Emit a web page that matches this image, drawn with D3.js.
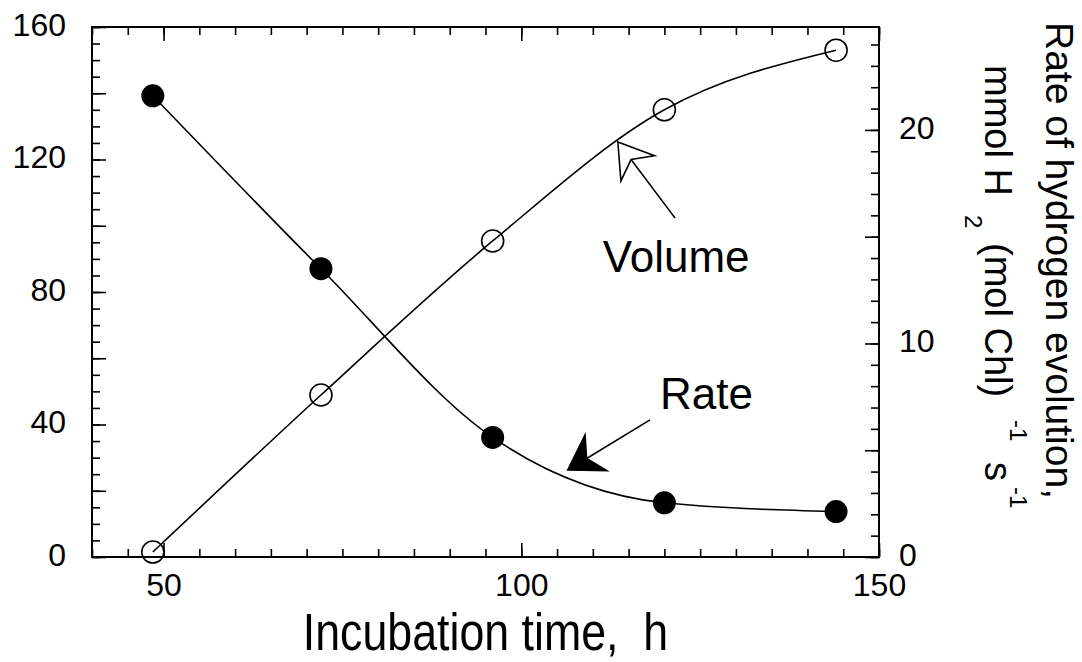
<!DOCTYPE html>
<html><head><meta charset="utf-8">
<script src="https://cdn.jsdelivr.net/npm/d3@7"></script>
<style>body{margin:0;background:#fff} text{font-family:"Liberation Sans",Arial,Helvetica,sans-serif;fill:#000;white-space:pre}</style>
</head><body><svg id="c" width="1082" height="662"></svg>
<script>
// ---- data ----
const hours = [48.5, 72, 96, 120, 144];
const volume = [1.5, 48.9, 95.4, 135.0, 153.0];   // left axis (open circles)
const rate = [21.6, 13.5, 5.6, 2.54, 2.13];        // right axis (filled circles)
const xTickLabels = [50, 100, 150];
const leftTickLabels = [0, 40, 80, 120, 160];
const rightTickLabels = [0, 10, 20];
const xTitle = "Incubation time,  h";
const rightTitle1 = "Rate of hydrogen evolution,";
const rightTitle2 = ["mmol H", "2", "(mol Chl)", "-1", "s", "-1"];
const annoLabels = ["Volume", "Rate"];
// annotation anchors in data units (x: hours, y: left axis units)
const volumeArrow = {tip: [113.5, 125.3], tail: [121.5, 102.3]};
const rateArrow = {tip: [106.5, 26.3], tail: [118.0, 41.4]};
const annoPos = [[111.4, 86.0], [119.4, 44.7]];

// ---- layout ----
const svg = d3.select("#c");
const X0 = 92, X1 = 879, Y0 = 557, Y1 = 27;
const x = d3.scaleLinear().domain([40, 150]).range([X0, X1]);
const yL = d3.scaleLinear().domain([0, 160]).range([Y0, Y1]);
const yR = d3.scaleLinear().domain([0, 24.82]).range([Y0, Y1]);

function style(g, fs) {
  g.select("path.domain").remove();
  g.selectAll(".tick line").attr("stroke", "#000").attr("stroke-width", 1.6);
  g.selectAll("text").attr("font-size", fs).attr("fill", "#000")
   .attr("font-family", '"Liberation Sans",Arial,sans-serif');
}
const FS = 32;
// bottom
svg.append("g").attr("transform", `translate(0,${Y0})`)
  .call(d3.axisBottom(x).tickValues(d3.range(40, 151, 5)).tickSize(-8).tickSizeOuter(0).tickFormat(""))
  .call(g => style(g, FS));
svg.append("g").attr("transform", `translate(0,${Y0})`)
  .call(d3.axisBottom(x).tickValues(xTickLabels).tickSize(-14).tickSizeOuter(0).tickPadding(16))
  .call(g => style(g, FS));
// top
svg.append("g").attr("transform", `translate(0,${Y1})`)
  .call(d3.axisTop(x).tickValues(d3.range(40, 151, 5)).tickSize(-8).tickSizeOuter(0).tickFormat(""))
  .call(g => style(g, FS));
svg.append("g").attr("transform", `translate(0,${Y1})`)
  .call(d3.axisTop(x).tickValues(xTickLabels).tickSize(-14).tickSizeOuter(0).tickFormat(""))
  .call(g => style(g, FS));
// left
svg.append("g").attr("transform", `translate(${X0},0)`)
  .call(d3.axisLeft(yL).tickValues(d3.range(0, 161, 5)).tickSize(-8).tickSizeOuter(0).tickFormat(""))
  .call(g => style(g, FS));
svg.append("g").attr("transform", `translate(${X0},0)`)
  .call(d3.axisLeft(yL).tickValues(d3.range(0, 161, 20)).tickSize(-14).tickSizeOuter(0).tickPadding(26)
    .tickFormat(d => leftTickLabels.includes(d) ? d : ""))
  .call(g => style(g, FS))
  .call(g => g.selectAll("text").attr("dy", "0.26em"));
// right
svg.append("g").attr("transform", `translate(${X1},0)`)
  .call(d3.axisRight(yR).tickValues(d3.range(0, 25, 1)).tickSize(-8).tickSizeOuter(0).tickFormat(""))
  .call(g => style(g, FS));
svg.append("g").attr("transform", `translate(${X1},0)`)
  .call(d3.axisRight(yR).tickValues(d3.range(0, 21, 5)).tickSize(-14).tickSizeOuter(0).tickPadding(20)
    .tickFormat(d => rightTickLabels.includes(d) ? d : ""))
  .call(g => style(g, FS))
  .call(g => g.selectAll("text").attr("dy", "0.26em"));
// frame
svg.append("rect").attr("x", X0).attr("y", Y1).attr("width", X1 - X0).attr("height", Y0 - Y1)
  .attr("fill", "none").attr("stroke", "#000").attr("stroke-width", 2);

// ---- lines ----
const volLine = d3.line().x((d, i) => x(hours[i])).y(d => yL(d)).curve(d3.curveMonotoneX);
const rateLine = d3.line().x((d, i) => x(hours[i])).y(d => yR(d)).curve(d3.curveMonotoneX);
svg.append("path").attr("d", volLine(volume)).attr("fill", "none").attr("stroke", "#000").attr("stroke-width", 1.6);
svg.append("path").attr("d", rateLine(rate)).attr("fill", "none").attr("stroke", "#000").attr("stroke-width", 1.6);

svg.append("g").selectAll("circle").data(volume).join("circle")
  .attr("cx", (d, i) => x(hours[i])).attr("cy", d => yL(d)).attr("r", 11)
  .attr("fill", "none").attr("stroke", "#000").attr("stroke-width", 1.6);
svg.append("g").selectAll("circle").data(rate).join("circle")
  .attr("cx", (d, i) => x(hours[i])).attr("cy", d => yR(d)).attr("r", 11.5)
  .attr("fill", "#000");

// ---- annotations ----
function arrow(a, filled) {
  const tx = x(a.tip[0]), ty = yL(a.tip[1]);
  const sx = x(a.tail[0]), sy = yL(a.tail[1]);
  const L = Math.hypot(tx - sx, ty - sy);
  const bx = (sx - tx) / L, by = (sy - ty) / L;   // back direction
  const px = -by, py = bx;
  const len = 33, hw = 21, notch = 22;
  const pts = [[tx, ty], [tx + bx * len + px * hw, ty + by * len + py * hw],
               [tx + bx * notch, ty + by * notch], [tx + bx * len - px * hw, ty + by * len - py * hw]];
  svg.append("line").attr("x1", tx + bx * notch).attr("y1", ty + by * notch).attr("x2", sx).attr("y2", sy)
    .attr("stroke", "#000").attr("stroke-width", 1.6);
  svg.append("path").attr("d", "M" + pts.map(p => p.join(",")).join("L") + "Z")
    .attr("fill", filled ? "#000" : "#fff").attr("stroke", "#000").attr("stroke-width", 1.6)
    .attr("stroke-linejoin", "miter");
}
arrow(volumeArrow, false);
arrow(rateArrow, true);
svg.selectAll("text.anno").data(annoLabels).join("text").attr("class", "anno")
  .attr("x", (d, i) => x(annoPos[i][0])).attr("y", (d, i) => yL(annoPos[i][1]))
  .attr("font-size", 44).text(d => d);

// ---- titles ----
svg.append("text").attr("transform", `translate(${(X0 + X1) / 2},650) scale(0.86,1)`)
  .attr("text-anchor", "middle").attr("font-size", 52).attr("xml:space", "preserve").text(xTitle);

svg.append("text").attr("transform", "translate(1046,22) rotate(90)").attr("font-size", 39).text(rightTitle1);
// second line pieces
const t2 = svg.append("text").attr("transform", "translate(985,0) rotate(90)");
const pieceStart = [65, 215, 243, 420, 462, 487];
const pieceShift = [0, 20, 0, -25, 0, -25];
const pieceSize = [38, 24, 38, 24, 38, 24];
rightTitle2.forEach((s, i) => {
  t2.append("tspan").attr("x", pieceStart[i]).attr("y", pieceShift[i]).attr("font-size", pieceSize[i]).text(s);
});
</script></body></html>
